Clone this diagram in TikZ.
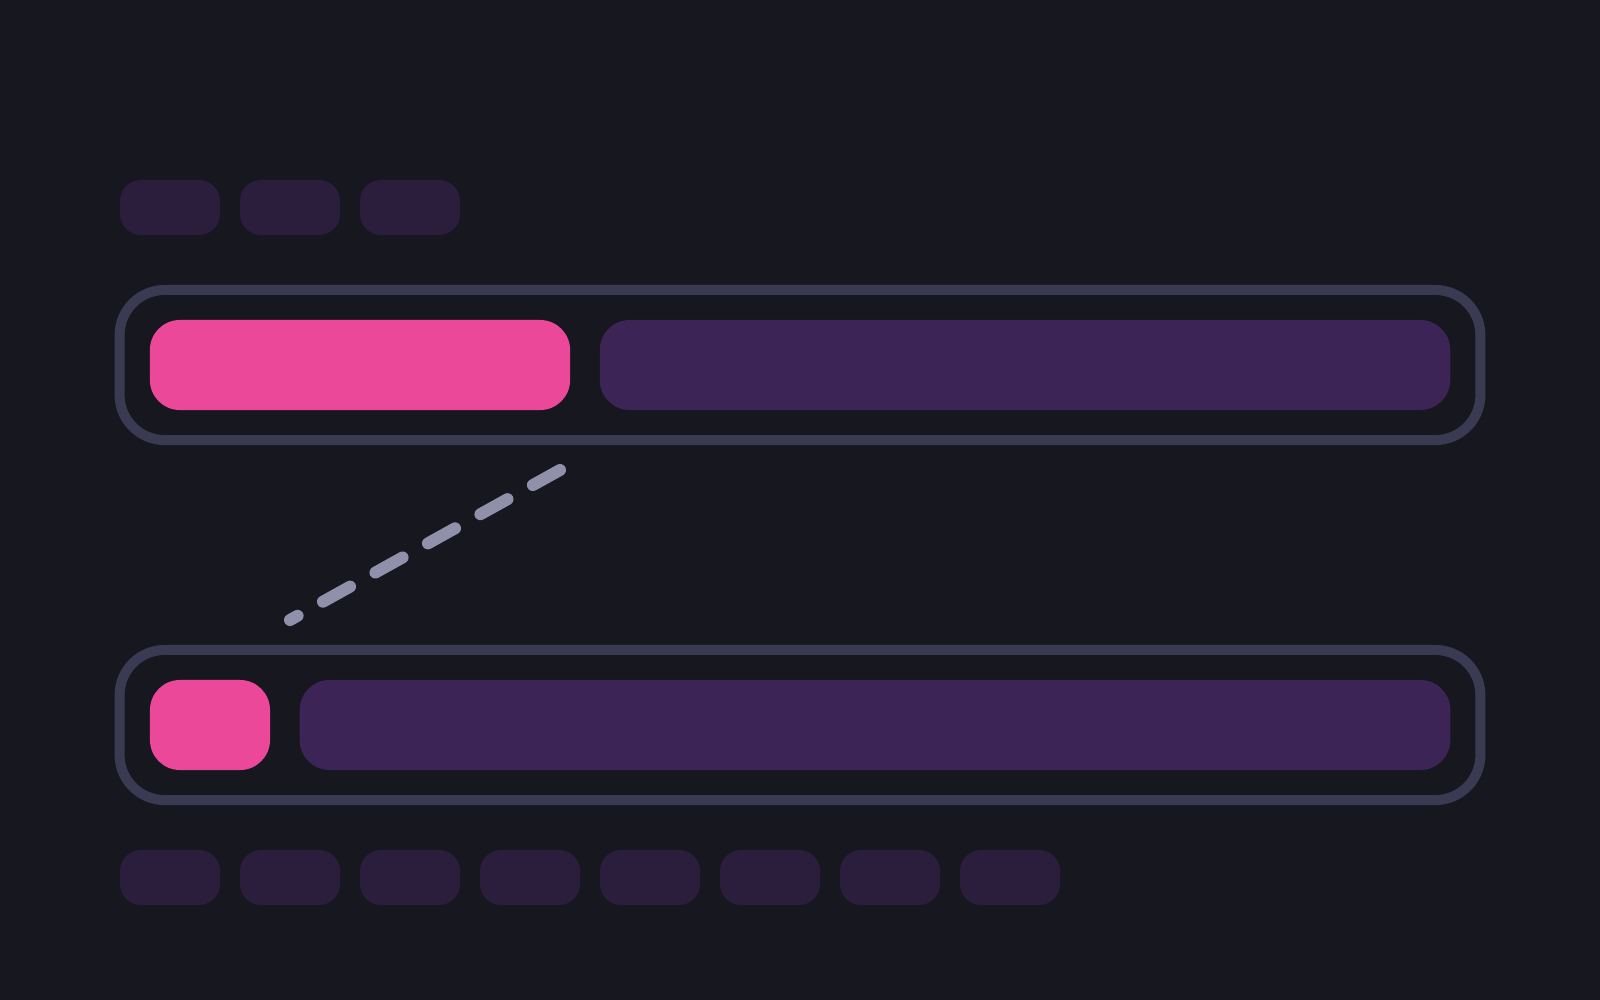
\documentclass[tikz,border=0pt]{standalone}

\definecolor{bg}{HTML}{17171F}
\definecolor{frameline}{HTML}{3A3A52}
\definecolor{hotpink}{HTML}{EC4899}
\definecolor{plum}{HTML}{3C2456}
\definecolor{chipfill}{HTML}{2A1E3C}
\definecolor{dashgray}{HTML}{9090AA}

\tikzset{
	chip/.style={fill=chipfill, rounded corners=0.21cm, minimum width=1cm, minimum height=0.55cm, inner sep=0pt},
	track/.style={draw=frameline, line width=0.1cm, rounded corners=0.45cm, minimum width=13.6cm, minimum height=1.5cm, inner sep=0pt},
	donebar/.style={fill=hotpink, rounded corners=0.3cm, minimum height=0.9cm, inner sep=0pt},
	restbar/.style={fill=plum, rounded corners=0.3cm, minimum height=0.9cm, inner sep=0pt}
}

\begin{document}
\begin{tikzpicture}[x=0.01cm, y=-0.01cm]
	\fill[bg] (0,0) rectangle (1600,1000);

	% chips above
	\foreach \i in {0,1,2}
		\node[chip] (top\i) at (170+120*\i,207.5) {};

	% upper track
	\node[track] (upper) at (800,365) {};
	\node[donebar, minimum width=4.2cm] (upperdone) at (360,365) {};
	\node[restbar, minimum width=8.5cm] (upperrest) at (1025,365) {};

	% lower track
	\node[track] (lower) at (800,725) {};
	\node[donebar, minimum width=1.2cm] (lowerdone) at (210,725) {};
	\node[restbar, minimum width=11.5cm] (lowerrest) at (875,725) {};

	% link
	\coordinate (linkstart) at (560,470);
	\coordinate (linkend) at (290,620);
	\draw[dashgray, line width=0.12cm, line cap=round, dash pattern=on 0.31cm off 0.29cm] (linkstart) -- (linkend);

	% chips below
	\foreach \i in {0,...,7}
		\node[chip] (low\i) at (170+120*\i,877.5) {};
\end{tikzpicture}
\end{document}
